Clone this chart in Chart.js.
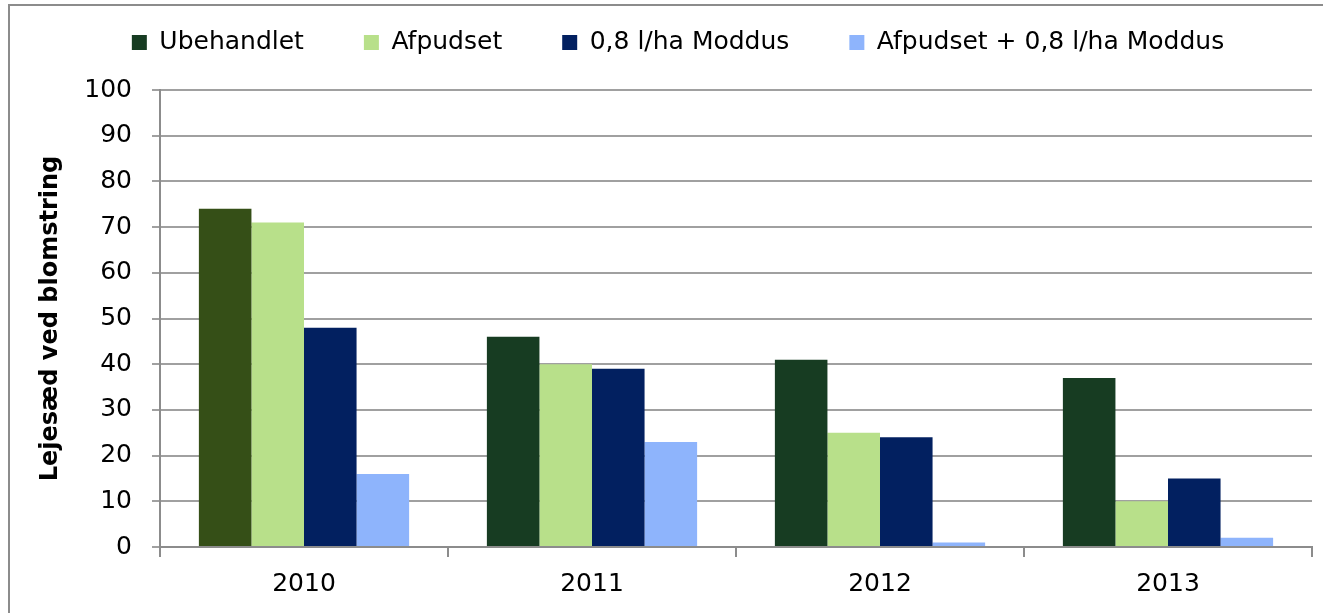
<!DOCTYPE html>
<html>
<head>
<meta charset="utf-8">
<script src="https://cdn.jsdelivr.net/npm/chart.js@4"></script>
<style>
  html, body { margin: 0; padding: 0; background: #fff; overflow: hidden; }
  canvas { display: block; }
</style>
</head>
<body>
<canvas id="c" width="1323" height="613"></canvas>
<script>
const categories = ['2010', '2011', '2012', '2013'];
const seriesNames = ['Ubehandlet', 'Afpudset', '0,8 l/ha Moddus', 'Afpudset + 0,8 l/ha Moddus'];
const ubehandlet = [74, 46, 41, 37];
const afpudset = [71, 40, 25, 10];
const moddus = [48, 39, 24, 15];
const afpudsetModdus = [16, 23, 1, 2];
const yTicks = [0, 10, 20, 30, 40, 50, 60, 70, 80, 90, 100];
const yTitle = 'Lejesæd ved blomstring';

const FONT = "'DejaVu Sans', sans-serif";
const colUbeh = '#173c22';
const colUbehFirst = '#354f17';
const seriesColors = [colUbeh, '#b8e08a', '#022060', '#8eb4fc'];

const legendFitPlugin = {
  id: 'legendFit',
  beforeInit(chart) {
    const lg = chart.legend;
    const origFit = lg.fit;
    lg.fit = function () {
      origFit.call(this);
      this.height = 90;
    };
    const origDraw = lg.draw;
    lg.draw = function () {
      const ctx = this.ctx;
      ctx.save();
      ctx.translate(22, -30);
      origDraw.call(this);
      ctx.restore();
    };
  }
};

const framePlugin = {
  id: 'frame',
  beforeDraw(chart) {
    const ctx = chart.ctx;
    ctx.save();
    ctx.fillStyle = '#fff';
    ctx.fillRect(0, 0, chart.width, chart.height);
    ctx.strokeStyle = '#8c8c8c';
    ctx.lineWidth = 2;
    ctx.beginPath();
    ctx.moveTo(9, 640);
    ctx.lineTo(9, 5);
    ctx.lineTo(1400, 5);
    ctx.stroke();
    ctx.restore();
  }
};

new Chart(document.getElementById('c'), {
  type: 'bar',
  data: {
    labels: categories,
    datasets: [
      { label: seriesNames[0], data: ubehandlet,
        backgroundColor: ubehandlet.map((v, i) => i === 0 ? colUbehFirst : colUbeh) },
      { label: seriesNames[1], data: afpudset, backgroundColor: seriesColors[1] },
      { label: seriesNames[2], data: moddus, backgroundColor: seriesColors[2] },
      { label: seriesNames[3], data: afpudsetModdus, backgroundColor: seriesColors[3] }
    ]
  },
  options: {
    responsive: false,
    animation: false,
    devicePixelRatio: 1,
    layout: { padding: { left: 0, right: 11, top: 0, bottom: 0 } },
    datasets: { bar: { categoryPercentage: 0.73, barPercentage: 1.0 } },
    plugins: {
      tooltip: { enabled: false },
      legend: {
        position: 'top',
        labels: {
          color: '#000',
          font: { family: FONT, size: 25 },
          boxWidth: 15, boxHeight: 15,
          padding: 60,
          generateLabels(chart) {
            return chart.data.datasets.map((ds, i) => ({
              text: ds.label, fillStyle: seriesColors[i], strokeStyle: seriesColors[i], lineWidth: 0,
              hidden: false, datasetIndex: i, fontColor: '#000'
            }));
          }
        }
      }
    },
    scales: {
      x: {
        offset: true,
        grid: { offset: true, drawOnChartArea: false, drawTicks: true, tickLength: 10,
                color: '#8c8c8c', lineWidth: 2 },
        border: { color: '#8c8c8c', width: 2 },
        ticks: { color: '#000', font: { family: FONT, size: 25 }, padding: 12 },
        afterFit(scale) { scale.height = 66; }
      },
      y: {
        min: 0, max: 100,
        afterBuildTicks(scale) { scale.ticks = yTicks.map(v => ({ value: v })); },
        grid: { color: '#a0a0a0', lineWidth: 2, tickLength: 8 },
        border: { color: '#8c8c8c', width: 2 },
        ticks: { color: '#000', font: { family: FONT, size: 25 }, padding: 20 },
        title: { display: true, text: yTitle, color: '#000',
                 font: { family: FONT, size: 24, weight: 'bold' }, padding: { top: 36, bottom: 0 } },
        afterFit(scale) { scale.width = 160; }
      }
    }
  },
  plugins: [framePlugin, legendFitPlugin]
});
</script>
</body>
</html>
